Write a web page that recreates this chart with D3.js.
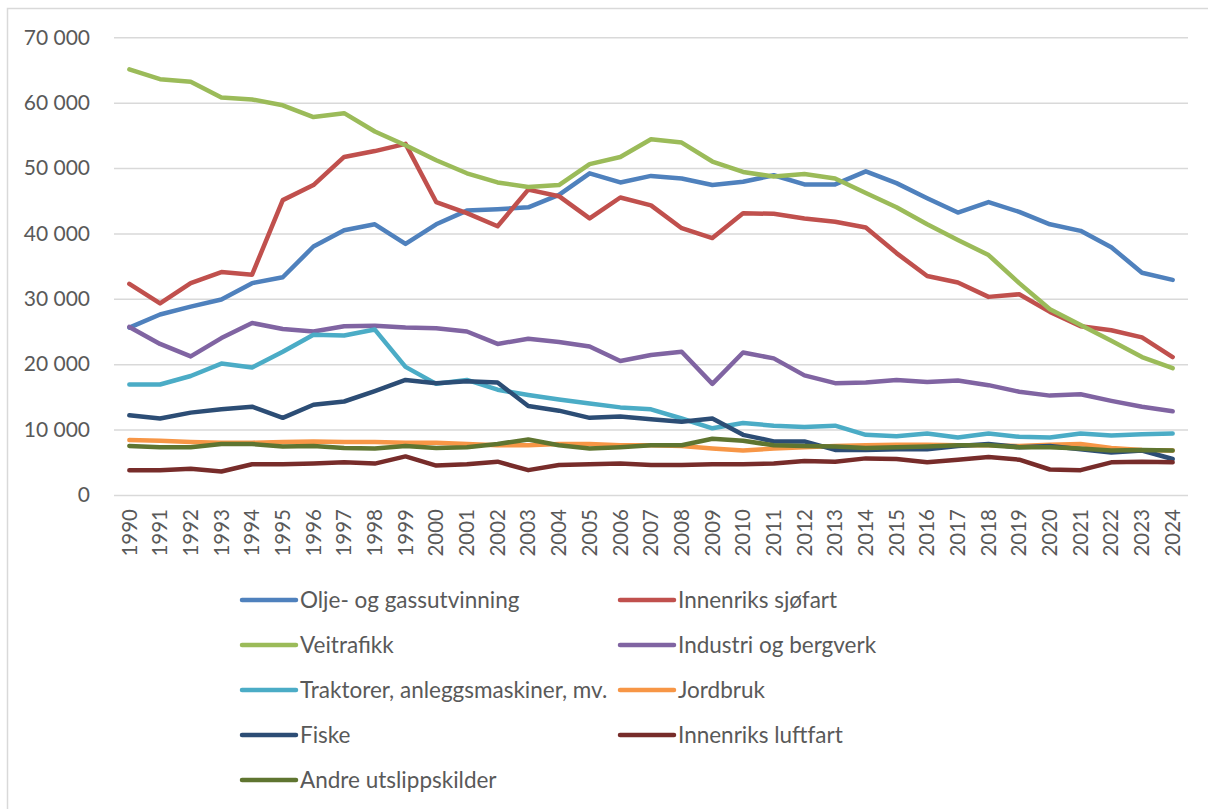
<!DOCTYPE html>
<html>
<head>
<meta charset="utf-8">
<script src="https://cdn.jsdelivr.net/npm/d3@7"></script>
<style>
  body { margin: 0; background: #fff; }
  text { font-family: Lato, "Open Sans", sans-serif; fill: #595959; }
</style>
</head>
<body>
<script>
// data (tonn CO2-ekv)
var years = d3.range(1990, 2025);
var yTicks = [0, 10000, 20000, 30000, 40000, 50000, 60000, 70000];

var olje = [25600, 27600, 28800, 29900, 32400, 33300, 38000, 40500, 41400, 38400, 41400, 43500, 43700, 44000, 45900, 49200, 47800, 48800, 48400, 47400, 47900, 48900, 47500, 47500, 49500, 47700, 45400, 43200, 44800, 43300, 41400, 40400, 37900, 34000, 32900];
var sjofart = [32300, 29300, 32400, 34100, 33700, 45100, 47400, 51700, 52600, 53700, 44800, 43100, 41100, 46700, 45700, 42300, 45500, 44300, 40800, 39300, 43100, 43000, 42300, 41800, 40900, 37000, 33500, 32500, 30300, 30700, 28000, 25800, 25200, 24100, 21100];
var veitrafikk = [65100, 63600, 63200, 60800, 60500, 59600, 57800, 58400, 55600, 53500, 51200, 49200, 47800, 47100, 47400, 50600, 51700, 54400, 53900, 51000, 49400, 48700, 49100, 48400, 46200, 44000, 41400, 39000, 36700, 32400, 28400, 26000, 23600, 21100, 19400];
var industri = [25700, 23100, 21200, 24000, 26300, 25400, 25000, 25800, 25900, 25600, 25500, 25000, 23100, 23900, 23400, 22700, 20500, 21400, 21900, 17000, 21800, 20900, 18300, 17100, 17200, 17600, 17300, 17500, 16800, 15800, 15200, 15400, 14400, 13500, 12800];
var traktorer = [16900, 16900, 18200, 20100, 19500, 21900, 24500, 24400, 25300, 19600, 17000, 17600, 16100, 15300, 14600, 14000, 13400, 13100, 11700, 10200, 11000, 10600, 10400, 10600, 9200, 9000, 9400, 8800, 9400, 8900, 8800, 9400, 9100, 9300, 9400];
var jordbruk = [8400, 8300, 8100, 8000, 8000, 8100, 8200, 8100, 8100, 8000, 8000, 7800, 7600, 7600, 7800, 7800, 7600, 7600, 7500, 7100, 6800, 7100, 7300, 7500, 7600, 7700, 7700, 7600, 7600, 7500, 7700, 7800, 7200, 6900, 6800];
var fiske = [12200, 11700, 12600, 13100, 13500, 11800, 13800, 14300, 15900, 17600, 17100, 17400, 17200, 13600, 12900, 11800, 12000, 11600, 11200, 11700, 9200, 8200, 8200, 6900, 6900, 7000, 7000, 7500, 7800, 7300, 7500, 7000, 6500, 6800, 5500];
var luftfart = [3800, 3800, 4000, 3600, 4700, 4700, 4800, 5000, 4800, 5900, 4500, 4700, 5100, 3800, 4600, 4700, 4800, 4600, 4600, 4700, 4700, 4800, 5200, 5100, 5600, 5500, 5000, 5400, 5800, 5400, 3900, 3800, 5000, 5100, 5000];
var andre = [7500, 7300, 7300, 7800, 7800, 7400, 7500, 7200, 7100, 7500, 7200, 7300, 7800, 8500, 7600, 7100, 7300, 7600, 7600, 8600, 8300, 7600, 7500, 7400, 7200, 7300, 7400, 7600, 7600, 7300, 7300, 7100, 6800, 6900, 6800];

var names = ['Olje- og gassutvinning', 'Innenriks sjøfart', 'Veitrafikk', 'Industri og bergverk',
	'Traktorer, anleggsmaskiner, mv.', 'Jordbruk', 'Fiske', 'Innenriks luftfart', 'Andre utslippskilder'];
var colors = ['#4F81BD', '#C0504D', '#9BBB59', '#8064A2', '#4BACC6', '#F79646', '#2C4D75', '#772C2A', '#5F7530'];

var series = [olje, sjofart, veitrafikk, industri, traktorer, jordbruk, fiske, luftfart, andre];

// svg and scales
var W = 1208, H = 809;
var plot = {left: 114, right: 1188, top: 37.3, bottom: 495};

var svg = d3.select('body').append('svg')
	.attr('width', W)
	.attr('height', H);

// chart border
svg.append('rect')
	.attr('x', 7.5)
	.attr('y', 8.5)
	.attr('width', W)
	.attr('height', H)
	.style('fill', 'none')
	.style('stroke', '#d9d9d9')
	.style('stroke-width', 1.5);

var x = d3.scaleBand()
	.domain(years)
	.range([plot.left, plot.right]);

var y = d3.scaleLinear()
	.domain([0, 70000])
	.range([plot.bottom, plot.top]);

var fmt = d3.formatLocale({decimal: ',', thousands: ' ', grouping: [3], currency: ['', '']}).format(',');

// gridlines + y labels
var yAxis = svg.append('g')
	.attr('transform', 'translate(' + plot.left + ',0)')
	.call(d3.axisLeft(y)
		.tickValues(yTicks)
		.tickSize(-(plot.right - plot.left))
		.tickPadding(24)
		.tickFormat(fmt));

yAxis.select('.domain').remove();
yAxis.selectAll('line')
	.style('stroke', '#d9d9d9')
	.style('stroke-width', 1.5);
yAxis.selectAll('text')
	.style('font-size', '21px')
	.style('fill', '#595959');

// x labels
var xAxis = svg.append('g')
	.attr('transform', 'translate(0,' + plot.bottom + ')')
	.call(d3.axisBottom(x).tickSize(0).tickPadding(0));

xAxis.select('.domain').remove();
xAxis.selectAll('text')
	.attr('transform', 'rotate(-90)')
	.attr('x', -14)
	.attr('y', 0)
	.attr('dy', '0.35em')
	.style('text-anchor', 'end')
	.style('font-size', '20.5px')
	.style('fill', '#595959');

// lines
var line = d3.line()
	.x(function(d, i) { return x(years[i]) + x.bandwidth() / 2; })
	.y(function(d) { return y(d); });

svg.selectAll('.serie')
	.data(series)
	.enter().append('path')
	.attr('class', 'serie')
	.attr('d', line)
	.style('fill', 'none')
	.style('stroke', function(d, i) { return colors[i]; })
	.style('stroke-width', 4.5)
	.style('stroke-linejoin', 'round')
	.style('stroke-linecap', 'round');

// legend, two columns
var legend = svg.selectAll('.legend')
	.data(names)
	.enter().append('g')
	.attr('class', 'legend')
	.attr('transform', function(d, i) {
		return 'translate(' + (i % 2 === 0 ? 242 : 620) + ',' + (600 + Math.floor(i / 2) * 45) + ')';
	});

legend.append('line')
	.attr('x1', 0)
	.attr('x2', 54)
	.style('stroke', function(d, i) { return colors[i]; })
	.style('stroke-width', 4.5)
	.style('stroke-linecap', 'round');

legend.append('text')
	.attr('x', 58)
	.attr('dy', '0.35em')
	.style('font-size', '22.5px')
	.text(function(d) { return d; });
</script>
</body>
</html>
